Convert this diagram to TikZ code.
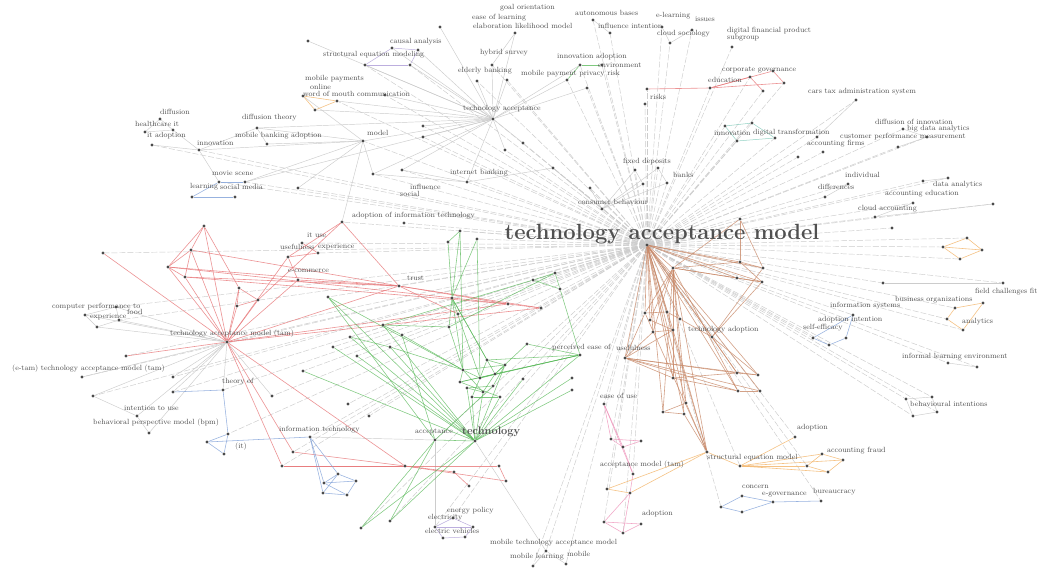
\documentclass[tikz,border=0pt]{standalone}
\usepackage{xcolor}
\definecolor{edgegray}{HTML}{CCCCCC}
\definecolor{redE}{HTML}{E8787A}
\definecolor{greenE}{HTML}{55B855}
\definecolor{brownE}{HTML}{C98A6A}
\definecolor{orangeE}{HTML}{F4B870}
\definecolor{blueE}{HTML}{7D9FD8}
\definecolor{pinkE}{HTML}{EE8FB8}
\definecolor{purpleE}{HTML}{A08CD0}
\definecolor{tealE}{HTML}{7CC8B8}
\definecolor{dotc}{HTML}{4A4A4A}
\definecolor{txt}{HTML}{505050}
\pgfdeclarelayer{edges}
\pgfsetlayers{edges,main}
\tikzset{
  dot/.style={circle, fill=dotc, inner sep=0pt, minimum size=3.2pt},
  hubedge/.style={draw=edgegray, line width=0.45pt, dash pattern=on 6pt off 2pt},
  gedge/.style={draw=edgegray, line width=0.45pt},
  redge/.style={draw=redE, line width=0.6pt, opacity=0.8},
  gredge/.style={draw=greenE, line width=0.55pt, opacity=0.75},
  bredge/.style={draw=brownE, line width=0.6pt, opacity=0.8},
  oredge/.style={draw=orangeE, line width=0.6pt, opacity=0.85},
  bledge/.style={draw=blueE, line width=0.55pt, opacity=0.8},
  piedge/.style={draw=pinkE, line width=0.55pt, opacity=0.8},
  puedge/.style={draw=purpleE, line width=0.5pt, opacity=0.7},
  teedge/.style={draw=tealE, line width=0.5pt, opacity=0.8},
  lab/.style={anchor=west, inner sep=0pt, text=txt, font=\fontsize{7.5}{8}\selectfont},
  title/.style={inner sep=0pt, text=txt, font=\fontsize{22}{22}\selectfont\bfseries},
  midtitle/.style={anchor=west, inner sep=0pt, text=txt, font=\fontsize{11}{11}\selectfont\bfseries}
}
\begin{document}
\begin{tikzpicture}[x=1pt,y=-1pt]
\useasboundingbox (0,0) rectangle (1038,572);
% ---------- dots ----------
\foreach \n/\x/\y in {hub/647/245, TA/493/119, MO/363/141, IB/467/182, CB/602/209, IN/199/150,
  TAM/227/342, TR/399/286, IT/310/437, AC/435/440, TE/475/441, PE/625/358, TAD/712/337, SEM/707/452,
  t1/308/41, t2/392/48, t3/418/50, t4/365/65, t5/410/65, t6/440/27, t7/515/33, t8/492/65, t9/477/81,
  t10/507/80, t11/385/95, t12/337/101, t13/303/96, t14/315/110, t15/423/126, t16/423/137, t17/257/128,
  t18/267/144, t19/505/150, t20/402/170, t21/373/174, t22/298/188, t24/610/33, t25/593/20, t26/662/27,
  t27/670/43, t28/692/30, t29/732/47, t30/580/65, t31/602/65, t32/567/80, t33/587/88, t34/647/89,
  t35/645/104, t36/710/88, t37/750/77, t38/763/91, t39/773/71, t40/784/83, t41/725/126, t42/752/123,
  t43/737/141, t44/775/138, t45/523/143, t46/553/168, t47/590/188, t48/635/170, t49/658/168, t50/643/184,
  t51/667/183, t52/856/100, t53/817/137, t54/798/157, t55/823/152, t56/903/129, t57/927/137, t58/898/147,
  t59/848/184, t60/923/181, t61/948/178, t62/825/197, t63/913/203, t64/875/217, t65/993/204, t66/892/228,
  l1/152/145, l2/160/119, l3/145/132, l4/173/130, l5/219/182, l6/245/182, l7/192/197, l8/235/197,
  r1/204/226, r2/191/250, r3/168/267, r4/185/277, r5/103/253, r6/239/288, r7/258/300, r8/237/306,
  r9/116/307, r10/85/315, r11/119/320, r12/97/327, r13/126/356, r14/82/377, r15/173/377, r16/342/222,
  r17/302/243, r18/318/253, r19/288/257, r20/298/280, r21/508/304, r22/541/308, r23/458/314, r24/404/223,
  r25/272/396, r26/348/404, r27/369/416, r28/293/452, r29/282/466, r30/405/466, r31/454/472, r32/469/486,
  r33/499/466, r34/506/481,
  b1/173/392, b2/223/390, b3/93/396, b4/137/416, b5/149/433, b6/228/434, b7/207/442, b8/224/454,
  b9/338/474, b10/324/483, b11/356/481, b12/323/493, b13/347/495,
  e1/453/518, e2/435/527, e3/473/527, e4/443/538, e5/465/537,
  g1/460/231, g2/448/242, g3/477/239, g4/328/297, g5/452/298, g6/383/325, g7/402/335, g8/449/327,
  g9/350/337, g10/390/347, g11/333/347, g12/357/356, g13/303/371, g14/463/370, g15/480/378, g16/495/374,
  g17/460/382, g18/555/273, g19/533/280, g20/560/289, g21/580/355, g22/572/378, g23/523/379, g24/483/392,
  g25/467/388, g26/493/386, g27/505/365, g28/487/360, g29/472/397, g30/500/397, g31/390/521, g32/361/528,
  g33/572/390, g34/527/344,
  br1/740/219, br2/740/262, br3/763/268, br4/673/268, br5/737/278, br6/762/282, br7/645/313, br8/667/312,
  br9/650/320, br10/680/319, br11/653/332, br12/673/330, br13/673/378, br14/737/373, br15/758/375,
  br16/686/403, br17/663/412, br18/684/414, br19/738/391, br20/760/391,
  o1/740/466, o2/795/437, o3/822/454, o4/843/460, o5/807/466, o6/828/472, o7/607/489, o8/630/493,
  oa/967/238, ob/943/247, oc/982/250, od/960/259, ya/955/308, yb/983/303, yc/947/319, yd/963/330,
  p1/604/404, p2/611/439, p3/623/447, p4/641/441, p5/633/474, p6/604/522, p7/641/524, p8/623/533,
  bl1/742/496, bl2/721/507, bl3/742/512, bl4/773/502, bl5/821/501, bl6/813/338, bl7/829/345, bl8/846/338, bl9/853/315,
  x1/883/283, x2/1003/283, x3/948/363, x4/977/367, x5/906/399, x6/932/397, x7/937/412, x8/913/416,
  m1/546/551, m2/566/564, m3/533/566}
  \node[dot] (\n) at (\x,\y) {};
% ---------- edges ----------
\begin{pgfonlayer}{edges}
\fill[white] (0,0) rectangle (1038,572);
\foreach \b in {TA, MO, IB, CB, IN, TAM, TR, IT, AC, TE, t4, t5, t8, t9, t10, t11, t12, t15, t16, t19, t20,
  t21, t22, t24, t25, t26, t27, t28, t29, t30, t31, t32, t33, t34, t35, t36, t37, t38, t40, t41, t42, t43,
  t44, t45, t46, t47, t48, t49, t50, t51, t52, t53, t54, t55, t56, t57, t58, t59, t60, t61, t62, t63, t64,
  t65, t66, l5, l6, l1, r5, r9, r11, r13, r14, r15, r16, r17, r18, r24, r25, r26, r27, r28, r29, b1, b2,
  b6, b3, g1, g3, g4, g9, g11, g12, g13, g31, g32, x1, x2, x3, x4, x5, x6, x7, x8, oa, ob, od, ya, yc, yd,
  bl6, bl7, bl9, o2, o5, o1, o7, p1, p2, p5, p6, p8, e1, e2, m1, m2, m3, bl2, bl5}
  \draw[hubedge] (hub) -- (\b);
\foreach \a/\b in {TA/t1, TA/t2, TA/t3, TA/t4, TA/t5, TA/t6, TA/t7, TA/t8, TA/t9, TA/t10, TA/t11, TA/t12,
  TA/t14, TA/t15, TA/t16, TA/MO, TA/t19, TA/IB, TA/t30, TA/t32, TA/t33, TA/t45, TA/t20, TA/t21, TA/l6, TA/t17,
  MO/t13, MO/t17, MO/t18, MO/IN, MO/t21, MO/l6, MO/t22, MO/r16,
  TAM/r9, TAM/r10, TAM/r11, TAM/r12, TAM/r14, TAM/r15, TAM/b1, TAM/b2, TAM/b3, TAM/b4, TAM/b5, TAM/r25,
  IB/t20, IB/t21, IB/t46, CB/t46, CB/t47, CB/t48, CB/t49, CB/t50, CB/t51, t48/t50, t49/t51,
  l1/IN, l2/l3, l3/l4, l4/IN, l2/l4, IN/t17, t17/t18, IN/l5, IT/AC, r9/r10, r10/r12, r11/r12, r9/r11,
  b3/b4, b4/b5, x5/x6, x6/x7, x7/x8, x5/x8, x3/x4, t7/t8, t56/t57, t57/t58, t60/t61,
  t52/t53, t59/t62, t63/t64, t65/t64, x1/x2, t26/t27, t27/t28, t24/t25, m1/m2, m1/m3, TE/m1, AC/e2}
  \draw[gedge] (\a) -- (\b);
% red cluster
\foreach \a/\b in {TAM/r1, TAM/r2, TAM/r3, TAM/r4, TAM/r5, TAM/r6, TAM/r7, TAM/r8, TAM/r13, TAM/TR,
  TAM/r21, TAM/r22, TAM/r29, TAM/r28, TAM/r30, TAM/r19, TAM/r20, r1/r2, r1/r3, r2/r3, r2/r4, r3/r4,
  r1/r6, r6/r7, r7/r8, r6/r8, r3/TR, r2/TR, r4/TR, r4/r21, r16/TR, r16/r19, r17/r18, r18/r19, r20/TR,
  r19/r20, TR/r21, TR/r22, TR/r23, r21/r22, r29/r33, r28/r30, r30/r31, r31/r32, r30/r34, r33/r34,
  r29/r30, r16/r7, r3/r21, t36/t37, t37/t38, t36/t39, t39/t40, t36/t40, t36/t34}
  \draw[redge] (\a) -- (\b);
% green cluster
\foreach \a/\b in {g4/TE, g4/AC, g4/g14, g5/g1, g1/g2, g2/g5, g3/g5, g5/g8, g5/g14, g5/g15, g5/g16,
  g8/g14, g6/g7, g6/g8, g7/g14, g9/g10, g10/g14, g11/TE, g12/TE, g13/TE, g18/g19, g18/g20, g19/g20,
  g20/g21, g18/g8, g19/g6, g21/g15, g21/g16, g21/TE, g21/g17, g22/TE, g23/TE, g14/g15, g15/g16, g16/g17,
  g17/g14, g24/g25, g25/g26, g26/g27, g27/g14, g24/TE, g25/TE, g26/AC, g27/TE, AC/TE, TE/g31, TE/g32,
  AC/g31, AC/g32, g28/g21, g28/g5, g29/TE, g30/TE, g29/g30, g27/g28, g27/g16, g14/g24, g15/g29, g17/g30,
  g16/g24, g28/g15, g33/TE, g34/g21, g34/g16, g9/TE, g10/TE, g6/TE, g7/AC, g3/g15, g1/g14, t30/t31, t30/t32}
  \draw[gredge] (\a) -- (\b);
% brown cluster
\foreach \a/\b in {hub/br2, hub/br3, hub/br4, hub/br5, hub/br6, hub/br7, hub/br8, hub/br9, hub/br10,
  hub/br11, hub/br12, hub/TAD, hub/PE, hub/br13, hub/br14, hub/br15, hub/br16, hub/br17, hub/br18,
  hub/br19, hub/br20, hub/SEM, br1/br3, br1/br4, br4/br2, br2/br3, br5/br6, br4/br5, br4/br6, br2/br6,
  br4/br7, br4/br9, br4/br11, br4/br13, br4/br16, br4/br17, br4/br18, br4/br19, br7/br8, br8/br10,
  br9/br12, br11/br12, br10/TAD, br6/TAD, br3/TAD, TAD/br14, TAD/br15, PE/br13, PE/br14, PE/br15,
  PE/br12, PE/br19, PE/br20, br13/br14, br14/br15, br16/br17, br17/br18, br18/SEM, br16/SEM, br12/SEM,
  br13/br19, br19/br20, br7/SEM, br4/SEM, br1/br2, PE/br7, PE/br11}
  \draw[bredge] (\a) -- (\b);
% orange / yellow
\foreach \a/\b in {SEM/o1, o1/o2, o1/o3, o1/o4, o1/o5, o1/o6, o3/o4, o4/o6, o5/o6, o3/o5, SEM/o7,
  o7/o8, SEM/o8, oa/ob, oa/oc, ob/od, oc/od, ob/oc, ya/yb, ya/yc, yc/yd, yb/yd, t12/t13, t13/t14, t12/t14}
  \draw[oredge] (\a) -- (\b);
% pink
\foreach \a/\b in {p1/p2, p1/p3, p2/p4, p2/p3, p3/p4, p3/p5, p5/o8, p6/p7, p6/p8, p7/p8, o8/p6,
  o8/p8, p1/p5}
  \draw[piedge] (\a) -- (\b);
% blue
\foreach \a/\b in {IT/b9, IT/b10, IT/b12, b9/b11, b9/b12, b10/b11, b10/b13, b11/b13, b12/b13, b9/b10,
  IT/b7, b6/b7, b6/b8, b7/b8, b2/b6, b1/b2, bl1/bl2, bl2/bl3, bl1/bl4, bl3/bl4, bl4/bl5, bl6/bl7,
  bl7/bl8, bl6/bl9, bl9/bl8, l5/l6, l7/l8, l5/l7}
  \draw[bledge] (\a) -- (\b);
% purple / teal
\foreach \a/\b in {t2/t3, t4/t5, t2/t4, t3/t5, e1/e2, e1/e3, e2/e4, e3/e5, e4/e5, e2/e3}
  \draw[puedge] (\a) -- (\b);
\foreach \a/\b in {t41/t42, t42/t44, t41/t43, t43/t44}
  \draw[teedge] (\a) -- (\b);
\end{pgfonlayer}
% ---------- labels ----------
\foreach \x/\y/\t [count=\i] in {160/112/diffusion, 135/124/healthcare it, 147/136/it adoption,
  197/143/innovation, 242/118/diffusion theory, 235/136/mobile banking adoption, 212/173/movie scene,
  190/187/learning, 220/187/social media, 390/42/causal analysis, 323/55/structural equation modeling,
  305/79/mobile payments, 310/87/online, 303/94/word of mouth communication, 480/53/hybrid survey,
  458/71/elderly banking, 521/74/mobile payment privacy risk, 463/109/technology acceptance,
  367/133/model, 450/173/internet banking, 410/187/influence, 400/194/social, 500/8/goal orientation,
  472/18/ease of learning, 473/26/elaboration likelihood model, 598/26/influence intention,
  575/13/autonomous bases, 656/16/e-learning, 695/19/issues, 657/34/cloud sociology,
  727/31/digital financial product, 727/38/subgroup, 557/57/innovation adoption, 598/65/environment,
  722/70/corporate governance, 708/80/education, 650/97/risks, 623/162/fixed deposits, 673/175/banks,
  714/133/innovation, 753/133/digital transformation, 807/144/accounting firms,
  840/137/customer performance measurement, 875/122/diffusion of innovation, 907/129/big data analytics,
  808/92/cars tax administration system, 845/175/individual, 818/187/differences,
  885/194/accounting education, 933/185/data analytics, 858/209/cloud accounting,
  830/306/information systems, 895/300/business organizations, 975/292/field challenges fit,
  818/320/adoption intention, 803/328/self-efficacy, 962/322/analytics,
  902/357/informal learning environment, 910/404/behavioural intentions,
  352/216/adoption of information technology, 307/235/it use, 280/247/usefulness, 318/247/experience,
  288/271/e-commerce, 407/278/trust, 170/334/technology acceptance model (tam),
  52/307/computer performance to, 127/312/food, 90/317/experience,
  12/369/(e-tam) technology acceptance model (tam), 222/382/theory of, 124/408/intention to use,
  93/423/behavioral perspective model (bpm), 235/447/(it), 279/430/information technology,
  415/432/acceptance, 447/511/energy policy, 428/518/electricity, 425/531/electric vehicles,
  490/543/mobile technology acceptance model, 510/557/mobile learning, 567/554/mobile,
  578/202/consumer behaviour, 552/348/perceived ease of, 616/348/usefulness,
  688/330/technology adoption, 600/396/ease of use, 600/465/acceptance model (tam),
  707/458/structural equation model, 642/514/adoption, 742/487/concern, 762/495/e-governance,
  813/492/bureaucracy, 797/428/adoption, 827/451/accounting fraud}
  \node[lab] (L\i) at (\x,\y) {\t};
\node[midtitle] (tech) at (462,432) {technology};
\node[title] (title) at (662,234) {technology acceptance model};
\end{tikzpicture}
\end{document}
